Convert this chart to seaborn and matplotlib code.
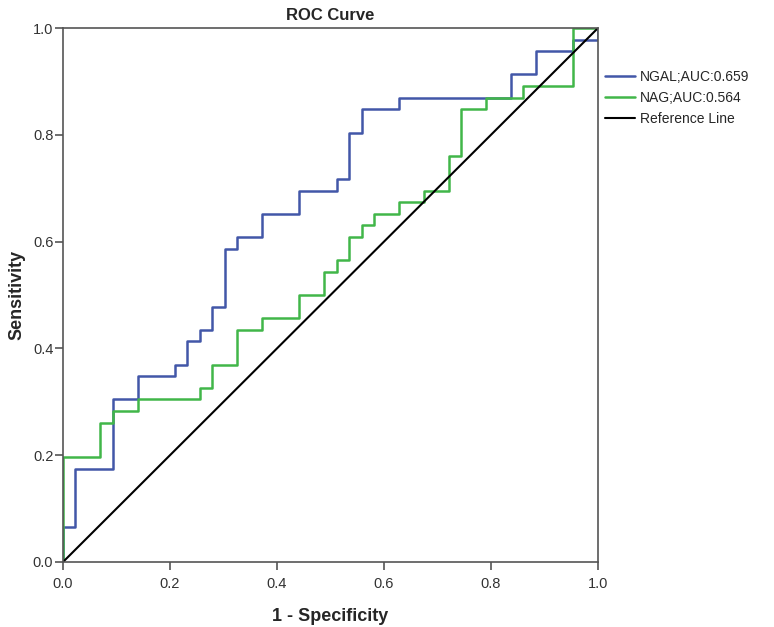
import pandas as pd
import numpy as np
import matplotlib
matplotlib.use("Agg")
import matplotlib.pyplot as plt
import seaborn as sns

# ROC step corners (right end of each horizontal run)
ngal_fpr = [0, .0233, .0930, .1395, .2093, .2326, .2558, .2791, .3023, .3256, .3721,
            .4419, .5116, .5349, .5581, .6279, .8372, .8837, .9535, 1.0, 1.0]
ngal_tpr = [0, .0652, .1739, .3043, .3478, .3696, .4130, .4348, .4783, .5870, .6087,
            .6522, .6957, .7174, .8043, .8478, .8696, .9130, .9565, .9783, 1.0]

nag_fpr = [0, .0698, .0930, .1395, .2558, .2791, .3256, .3721, .4419, .4884, .5116,
           .5349, .5581, .5814, .6279, .6744, .7209, .7442, .7907, .8605, .9535, 1.0]
nag_tpr = [0, .1957, .2609, .2826, .3043, .3261, .3696, .4348, .4565, .5, .5435,
           .5652, .6087, .6304, .6522, .6739, .6957, .7609, .8478, .8696, .8913, 1.0]

ref_x = [0, 1]
ref_y = [0, 1]

labels = ["NGAL;AUC:0.659", "NAG;AUC:0.564", "Reference Line"]
colors = ["#4257A8", "#41B649", "#000000"]

df = pd.concat([
    pd.DataFrame({"fpr": ngal_fpr, "tpr": ngal_tpr, "curve": labels[0]}),
    pd.DataFrame({"fpr": nag_fpr, "tpr": nag_tpr, "curve": labels[1]}),
], ignore_index=True)

sns.set_style("white")
plt.rcParams["font.family"] = ["Liberation Sans", "DejaVu Sans"]

fig = plt.figure(figsize=(7.74, 6.27), dpi=100)
ax = fig.add_axes([0.0814, 0.1037, 0.6912, 0.8516])

sns.lineplot(data=df, x="fpr", y="tpr", hue="curve", hue_order=labels[:2],
             palette=dict(zip(labels[:2], colors[:2])), sort=False, estimator=None,
             drawstyle="steps-pre", linewidth=1.8, ax=ax)
sns.lineplot(x=ref_x, y=ref_y, color=colors[2], linewidth=1.5, label=labels[2], ax=ax)

ax.set_xlim(0, 1)
ax.set_ylim(0, 1)
ticks = np.arange(0, 1.01, 0.2)
ax.set_xticks(ticks)
ax.set_yticks(ticks)
ax.set_xticklabels([f"{v:.1f}" for v in ticks])
ax.set_yticklabels([f"{v:.1f}" for v in ticks])

for s in ax.spines.values():
    s.set_color("#555555")
    s.set_linewidth(1.2)
ax.tick_params(axis="both", direction="out", length=5.5, width=1.2, color="#555555",
               labelsize=10.5, labelcolor="#333333", bottom=True, left=True)
ax.tick_params(axis="x", pad=5)
ax.tick_params(axis="y", pad=1.5)

ax.set_title("ROC Curve", fontsize=12, fontweight="bold", pad=6)
ax.set_xlabel("1 - Specificity", fontsize=13, fontweight="bold")
ax.set_ylabel("Sensitivity", fontsize=13, fontweight="bold")
ax.xaxis.set_label_coords(0.5, -0.086)
ax.yaxis.set_label_coords(-0.07, 0.5)

ax.legend(loc="upper left", bbox_to_anchor=(1.0, 0.935), frameon=False, fontsize=10,
          handlelength=2.2, handletextpad=0.3, labelspacing=0.5, borderaxespad=0.1)

fig.savefig("out.png", dpi=100)
